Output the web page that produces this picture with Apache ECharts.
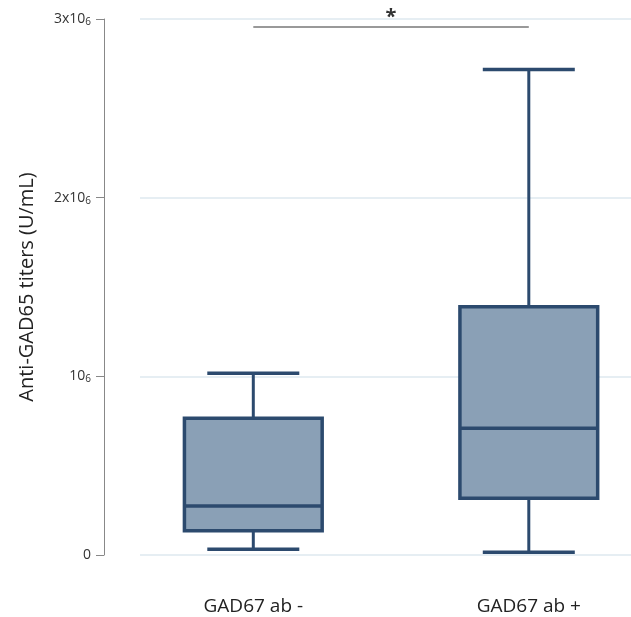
<!DOCTYPE html>
<html><head><meta charset="utf-8">
<script src="https://cdn.jsdelivr.net/npm/echarts@6/dist/echarts.min.js"></script>
<style>html,body{margin:0;padding:0;background:#fff}#c{width:631px;height:617px}</style>
</head><body><div id="c"></div>
<script>
const categories = ['GAD67 ab -', 'GAD67 ab +'];
const mins    = [32000, 15000];
const q1s     = [136000, 317000];
const medians = [274000, 709000];
const q3s     = [765000, 1389000];
const maxs    = [1017000, 2718000];
const yTickValues = [0, 1000000, 2000000, 3000000];
const yTickLabels = ['0', '10', '2x10', '3x10'];
const sigBracket = { from: 0, to: 1, level: 2956000, label: '*' };

const boxData = categories.map((c, i) => [i, mins[i], q1s[i], medians[i], q3s[i], maxs[i]]);
const stroke = '#2c4a6e', fill = '#8aa0b6';

const chart = echarts.init(document.getElementById('c'));
chart.setOption({
  animation: false,
  grid: [
    { left: 253.3, width: 275.5, top: 19, bottom: 62, containLabel: false },
    { left: 140, right: 0, top: 19, bottom: 62, containLabel: false }
  ],
  xAxis: [
    { type: 'category', gridIndex: 0, data: categories, boundaryGap: false,
      axisLine: { show: false }, axisTick: { show: false }, splitLine: { show: false },
      axisLabel: { margin: 42, fontSize: 19, color: '#222', fontFamily: 'Open Sans' } },
    { type: 'value', gridIndex: 1, show: false, min: 0, max: 1 }
  ],
  yAxis: [
    { type: 'value', gridIndex: 0, min: 0, max: 3000000, interval: 1000000, offset: 149.3,
      axisLine: { show: true, lineStyle: { color: '#888', width: 1 } },
      axisTick: { show: true, length: 8, lineStyle: { color: '#888', width: 1 } },
      splitLine: { show: false },
      axisLabel: {
        margin: 13,
        formatter: function (v) {
          const idx = yTickValues.indexOf(v);
          const t = idx >= 0 ? yTickLabels[idx] : '';
          return v === 0 ? '{b|' + t + '}' : '{b|' + t + '}{s|6}';
        },
        rich: {
          b: { fontSize: 14, color: '#333', fontFamily: 'Open Sans' },
          s: { fontSize: 10, color: '#333', fontFamily: 'Open Sans', padding: [6, 0, 0, 0] }
        }
      },
      name: 'Anti-GAD65 titers (U/mL)', nameLocation: 'middle', nameGap: 67,
      nameTextStyle: { fontSize: 20, color: '#222', fontFamily: 'Open Sans' }
    },
    { type: 'value', gridIndex: 1, min: 0, max: 3000000, interval: 1000000,
      axisLine: { show: false }, axisTick: { show: false }, axisLabel: { show: false },
      splitLine: { show: true, lineStyle: { color: '#e6eef3', width: 2 } } }
  ],
  series: [
    {
      type: 'custom', xAxisIndex: 0, yAxisIndex: 0, z: 3, clip: false,
      data: boxData,
      renderItem: function (params, api) {
        const x = api.value(0);
        const band = api.size([1, 0])[0];
        const halfBox = band * 0.25;
        const halfCap = band * 0.167;
        const pMin = api.coord([x, api.value(1)]);
        const pQ1 = api.coord([x, api.value(2)]);
        const pMed = api.coord([x, api.value(3)]);
        const pQ3 = api.coord([x, api.value(4)]);
        const pMax = api.coord([x, api.value(5)]);
        const cx = pMed[0];
        const ls = { stroke: stroke, lineWidth: 3.5 };
        return {
          type: 'group',
          children: [
            { type: 'line', shape: { x1: cx, y1: pMax[1], x2: cx, y2: pQ3[1] }, style: Object.assign({}, ls, { lineWidth: 3 }) },
            { type: 'line', shape: { x1: cx, y1: pQ1[1], x2: cx, y2: pMin[1] }, style: Object.assign({}, ls, { lineWidth: 3 }) },
            { type: 'line', shape: { x1: cx - halfCap, y1: pMax[1], x2: cx + halfCap, y2: pMax[1] }, style: ls },
            { type: 'line', shape: { x1: cx - halfCap, y1: pMin[1], x2: cx + halfCap, y2: pMin[1] }, style: ls },
            { type: 'rect', shape: { x: cx - halfBox, y: pQ3[1], width: halfBox * 2, height: pQ1[1] - pQ3[1] },
              style: { fill: fill, stroke: stroke, lineWidth: 3.5 } },
            { type: 'line', shape: { x1: cx - halfBox, y1: pMed[1], x2: cx + halfBox, y2: pMed[1] }, style: ls }
          ]
        };
      }
    },
    {
      type: 'line', xAxisIndex: 0, yAxisIndex: 0, data: [], silent: true,
      markLine: {
        silent: true, symbol: 'none',
        lineStyle: { color: '#999', width: 2, type: 'solid' },
        label: { show: true, position: 'middle', formatter: sigBracket.label, fontSize: 20,
                 fontWeight: 'bold', color: '#333', fontFamily: 'Open Sans', distance: 0 },
        data: [[
          { coord: [sigBracket.from, sigBracket.level] },
          { coord: [sigBracket.to, sigBracket.level] }
        ]]
      }
    }
  ]
});
</script></body></html>
